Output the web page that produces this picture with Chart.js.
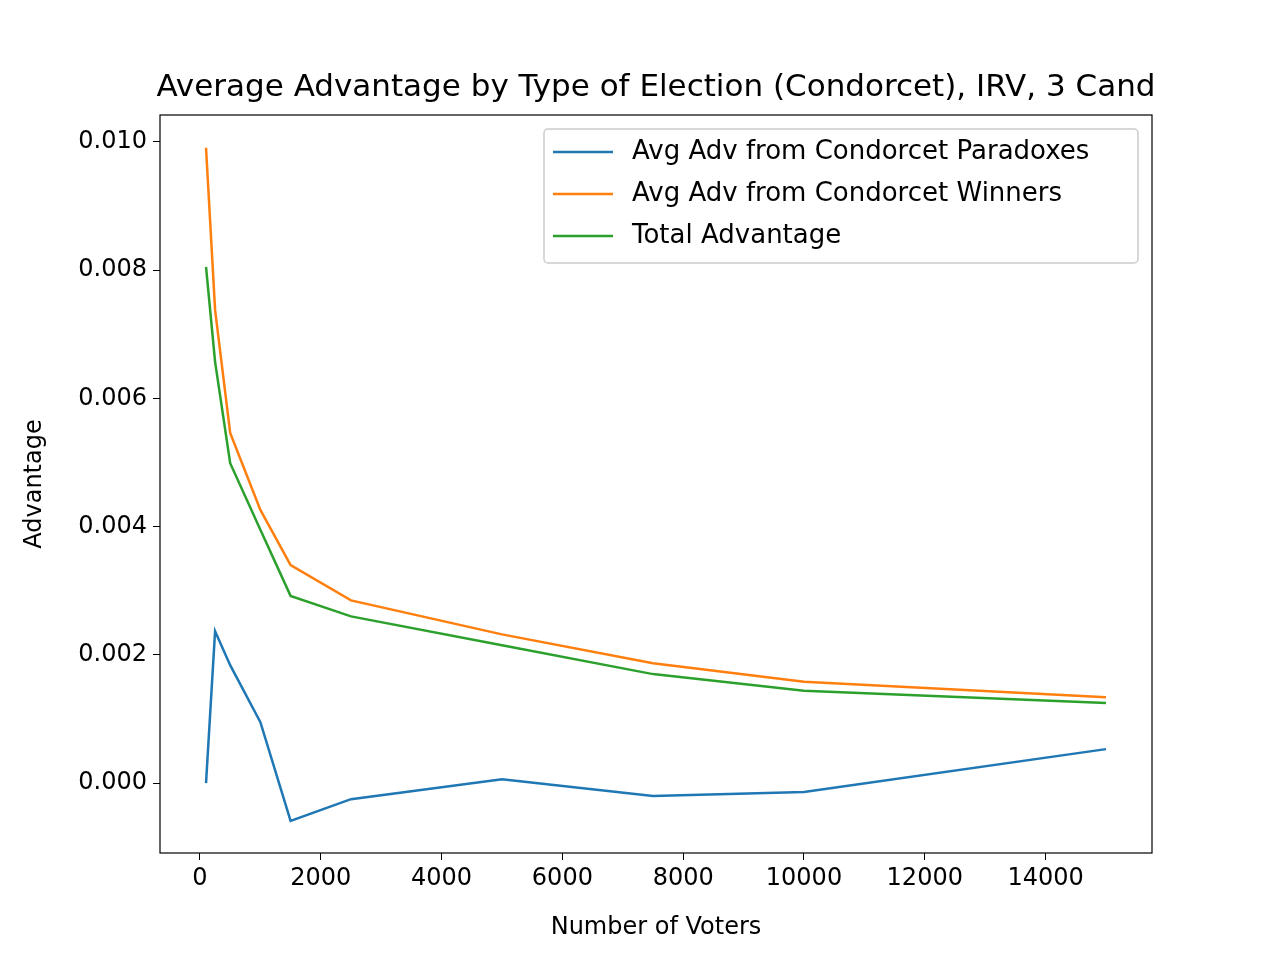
<!DOCTYPE html>
<html><head><meta charset="utf-8">
<script src="https://cdn.jsdelivr.net/npm/chart.js@4"></script>
<style>body{margin:0;background:#fff}#wrap{width:1280px;height:960px}</style>
</head><body><div id="wrap"><canvas id="c" width="1280" height="960"></canvas></div>
<script>
const voters = [100, 250, 500, 1000, 1500, 2500, 5000, 7500, 10000, 15000];
const advParadox = [0.0, 0.00237, 0.00184, 0.00095, -0.00059, -0.00025, 0.00006, -0.0002, -0.00014, 0.00053];
const advWinners = [0.00991, 0.00738, 0.00546, 0.00426, 0.0034, 0.00285, 0.00232, 0.00187, 0.00158, 0.00134];
const advTotal = [0.00805, 0.00657, 0.00499, 0.00395, 0.00292, 0.0026, 0.00215, 0.0017, 0.00144, 0.00125];
const xTicks = [0, 2000, 4000, 6000, 8000, 10000, 12000, 14000];
const yTicks = [0, 0.002, 0.004, 0.006, 0.008, 0.010];
const seriesNames = ['Avg Adv from Condorcet Paradoxes', 'Avg Adv from Condorcet Winners', 'Total Advantage'];
const colors = ['#1f77b4', '#ff7f0e', '#2ca02c'];

Chart.defaults.font.family = 'DejaVu Sans';
Chart.defaults.color = '#000';

const toPts = arr => arr.map((v, i) => ({ x: voters[i], y: v }));

const framePlugin = {
    id: 'frame',
    afterDraw(chart) {
        const ctx = chart.ctx, a = chart.chartArea;
        ctx.save();
        ctx.strokeStyle = '#000';
        ctx.lineWidth = 1.2;
        ctx.strokeRect(a.left, a.top, a.right - a.left, a.bottom - a.top);
        ctx.fillStyle = '#000';
        ctx.font = '31px DejaVu Sans';
        ctx.textAlign = 'center';
        ctx.textBaseline = 'middle';
        ctx.fillText('Average Advantage by Type of Election (Condorcet), IRV, 3 Cand', (a.left + a.right) / 2, 88);
        // legend
        const bx = 544, by = 129, bw = 594, bh = 134;
        ctx.fillStyle = 'rgba(255,255,255,0.8)';
        ctx.strokeStyle = '#ccc';
        ctx.lineWidth = 1.5;
        ctx.beginPath();
        ctx.roundRect(bx, by, bw, bh, 4);
        ctx.fill(); ctx.stroke();
        ctx.font = '26px DejaVu Sans';
        ctx.textAlign = 'left';
        ctx.textBaseline = 'middle';
        chart.data.datasets.forEach((ds, i) => {
            const y = 152 + i * 42;
            ctx.strokeStyle = ds.borderColor;
            ctx.lineWidth = 2.5;
            ctx.beginPath(); ctx.moveTo(553, y); ctx.lineTo(613, y); ctx.stroke();
            ctx.fillStyle = '#000';
            ctx.fillText(ds.label, 632, y);
        });
        ctx.restore();
    }
};

new Chart(document.getElementById('c'), {
    type: 'line',
    data: {
        datasets: [advParadox, advWinners, advTotal].map((arr, i) => ({
            label: seriesNames[i],
            data: toPts(arr),
            borderColor: colors[i],
            borderWidth: 2.5,
            pointRadius: 0,
            tension: 0,
            fill: false
        }))
    },
    options: {
        responsive: false,
        animation: false,
        layout: { padding: { top: 115, right: 128, left: 0, bottom: 0 } },
        plugins: { legend: { display: false }, title: { display: false }, tooltip: { enabled: false } },
        scales: {
            x: {
                type: 'linear',
                min: -662, max: 15762,
                afterFit(s) { s.height = 107; },
                afterBuildTicks(s) { s.ticks = xTicks.map(v => ({ value: v })); },
                grid: { drawOnChartArea: false, tickLength: 7, color: '#000' },
                border: { display: false },
                ticks: { font: { size: 24 }, padding: 4, maxRotation: 0, autoSkip: false,
                    callback: v => String(v) },
                title: { display: true, text: 'Number of Voters', font: { size: 24 }, padding: { top: 0, bottom: 18 } }
            },
            y: {
                min: -0.00109, max: 0.01042,
                afterFit(s) { s.width = 160; },
                afterBuildTicks(s) { s.ticks = yTicks.map(v => ({ value: v })); },
                grid: { drawOnChartArea: false, tickLength: 7, color: '#000' },
                border: { display: false },
                ticks: { font: { size: 24 }, padding: 6, autoSkip: false,
                    callback: v => v.toFixed(3) },
                title: { display: true, text: 'Advantage', font: { size: 24 }, padding: { top: 20, bottom: 0 } }
            }
        }
    },
    plugins: [framePlugin]
});
</script>
</body></html>
